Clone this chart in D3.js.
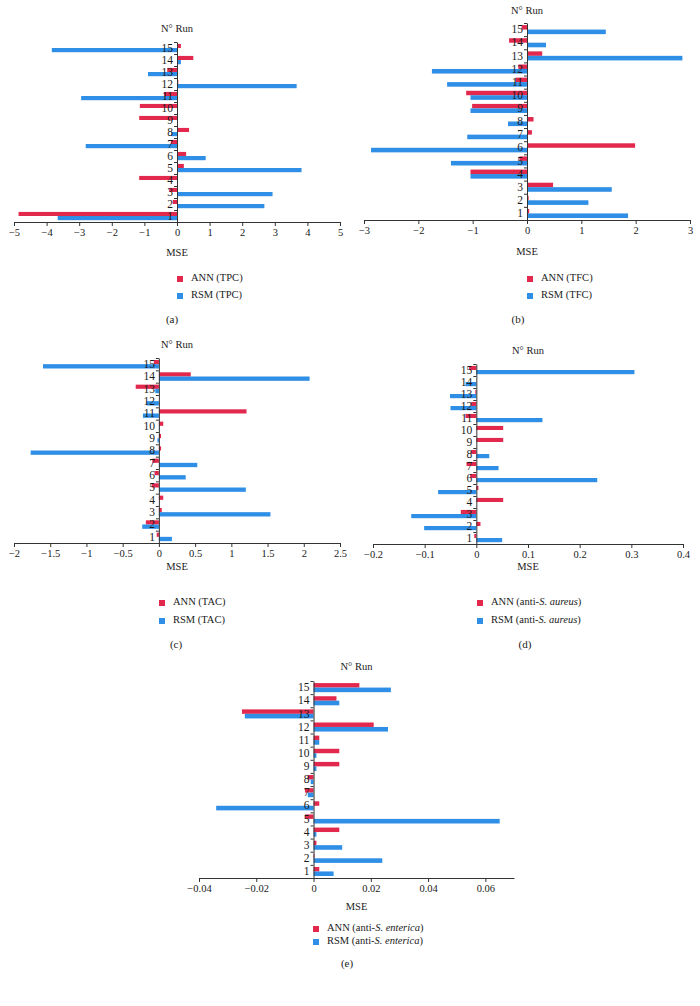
<!DOCTYPE html>
<html>
<head>
<meta charset="utf-8">
<script src="https://cdn.jsdelivr.net/npm/d3@7"></script>
<style>
  html, body { margin: 0; padding: 0; background: #fff; }
  svg { display: block; }
  text { font-family: "Liberation Serif", "DejaVu Serif", serif; fill: #1a1a1a; }
</style>
</head>
<body>
<svg id="chart" width="700" height="1006"></svg>
<script>
// ---- Data ----
const categories = ["1","2","3","4","5","6","7","8","9","10","11","12","13","14","15"];

const tpcANN = [-4.86, -0.13, -0.24, -1.16, 0.21, 0.28, -0.19, 0.37, -1.16, -1.14, -0.4, 0.04, -0.3, 0.5, 0.12];
const tpcRSM = [-3.66, 2.68, 2.93, 0, 3.82, 0.88, -2.8, -0.17, 0, 0, -2.94, 3.67, -0.89, 0.12, -3.84];

const tfcANN = [0.04, 0.03, 0.48, -1.04, -0.14, 1.99, 0.09, 0.12, -1.01, -1.12, -0.21, -0.16, 0.28, -0.33, -0.1];
const tfcRSM = [1.86, 1.13, 1.56, -1.04, -1.4, -2.87, -1.1, -0.35, -1.04, -1.04, -1.47, -1.75, 2.86, 0.35, 1.45];

const tacANN = [-0.03, -0.18, 0.04, 0.06, -0.1, -0.06, -0.09, 0.03, 0.03, 0.06, 1.21, 0, -0.32, 0.44, -0.07];
const tacRSM = [0.18, -0.23, 1.54, 0, 1.2, 0.37, 0.53, -1.77, -0.02, 0.005, -0.22, -0.17, -0.05, 2.08, -1.6];

const saANN = [-0.004, 0.008, -0.03, 0.052, 0.004, -0.012, -0.019, -0.01, 0.052, 0.052, -0.021, -0.01, -0.002, 0, -0.014];
const saRSM = [0.05, -0.101, -0.126, 0, -0.074, 0.234, 0.043, 0.025, 0, 0, 0.128, -0.05, -0.051, -0.021, 0.306];

const seANN = [0.002, 0.0003, 0.001, 0.009, -0.003, 0.002, -0.003, -0.002, 0.009, 0.009, 0.002, 0.021, -0.025, 0.008, 0.016];
const seRSM = [0.007, 0.024, 0.01, 0.001, 0.065, -0.034, -0.002, -0.001, 0.001, 0.001, 0.002, 0.026, -0.024, 0.009, 0.027];

const ticksA = [-5,-4,-3,-2,-1,0,1,2,3,4,5];
const ticksB = [-3,-2,-1,0,1,2,3];
const ticksC = [-2,-1.5,-1,-0.5,0,0.5,1,1.5,2,2.5];
const ticksD = [-0.2,-0.1,0,0.1,0.2,0.3,0.4];
const ticksE = [-0.04,-0.02,0,0.02,0.04,0.06];

const RED = "#e2294d";
const BLUE = "#2f8ee6";

const svg = d3.select("#chart");

function panel(cfg) {
  const g = svg.append("g");
  const x = d3.scaleLinear().domain(cfg.domain).range([cfg.x0, cfg.x1]);
  const y = d3.scaleBand().domain(categories.slice().reverse()).range([cfg.y0, cfg.y1]).padding(0);
  const bw = y.bandwidth();
  const zero = x(0);

  // bars
  categories.forEach((c, i) => {
    const a = cfg.ann[i], r = cfg.rsm[i];
    g.append("rect")
      .attr("x", Math.min(x(a), zero)).attr("width", Math.abs(x(a) - zero))
      .attr("y", y(c) + bw * 0.16).attr("height", bw * 0.34)
      .attr("fill", RED);
    g.append("rect")
      .attr("x", Math.min(x(r), zero)).attr("width", Math.abs(x(r) - zero))
      .attr("y", y(c) + bw * 0.5).attr("height", bw * 0.35)
      .attr("fill", BLUE);
  });

  // x axis
  const xa = g.append("g").attr("transform", `translate(0,${cfg.y1})`)
    .call(d3.axisBottom(x).tickValues(cfg.ticks).tickSize(4).tickSizeOuter(0).tickPadding(3).tickFormat(d3.format("")));
  xa.selectAll("path,line").attr("stroke", "#333");
  xa.selectAll("text").attr("font-size", 10.5).style("font-family", '"Liberation Serif", serif').attr("fill", "#1a1a1a");
  xa.selectAll("text").text(d => d < 0 ? "\u2212" + String(Math.abs(d)) : String(d));

  // y axis boundary ticks
  const yl = d3.scaleLinear().domain([0, categories.length]).range([cfg.y1, cfg.y0]);
  const ya = g.append("g").attr("transform", `translate(${zero},0)`)
    .call(d3.axisLeft(yl).tickValues(d3.range(0, categories.length + 1)).tickSize(3).tickSizeOuter(0).tickFormat(""));
  ya.selectAll("path,line").attr("stroke", "#333");
  // y labels
  const yb = g.append("g").attr("transform", `translate(${zero},0)`)
    .call(d3.axisLeft(y).tickSize(0).tickPadding(4));
  yb.select(".domain").remove();
  yb.selectAll("text").attr("font-size", 11.5).style("font-family", '"Liberation Serif", serif').attr("fill", "#1a1a1a");

  const cx = (cfg.x0 + cfg.x1) / 2;
  g.append("text").attr("x", cx).attr("y", cfg.titleY).attr("text-anchor", "middle")
    .attr("dominant-baseline", "middle").attr("font-size", 10.5).text("N\u00b0 Run");
  g.append("text").attr("x", cx).attr("y", cfg.mseY).attr("text-anchor", "middle")
    .attr("dominant-baseline", "middle").attr("font-size", 10.5).text("MSE");

  // legend
  [[RED, "ANN", cfg.legY[0]], [BLUE, "RSM", cfg.legY[1]]].forEach(([col, name, ly]) => {
    g.append("rect").attr("x", cfg.legX).attr("y", ly - 3).attr("width", 6).attr("height", 6).attr("fill", col);
    const t = g.append("text").attr("x", cfg.legX + 14).attr("y", ly)
      .attr("dominant-baseline", "middle").attr("font-size", 10.5);
    t.append("tspan").text(name + " (" + cfg.pre);
    if (cfg.ital) t.append("tspan").attr("font-style", "italic").text(cfg.ital);
    t.append("tspan").text(")");
  });
  g.append("text").attr("x", cfg.tagX).attr("y", cfg.tagY).attr("text-anchor", "middle")
    .attr("dominant-baseline", "middle").attr("font-size", 11).text(cfg.tag);
}

panel({ domain: [-5, 5], ticks: ticksA, x0: 14, x1: 340, y0: 42, y1: 222, ann: tpcANN, rsm: tpcRSM,
  titleY: 30, mseY: 254, legX: 177, legY: [279, 296], pre: "TPC", tagX: 172, tagY: 320, tag: "(a)" });
panel({ domain: [-3, 3], ticks: ticksB, x0: 364, x1: 690, y0: 23, y1: 220, ann: tfcANN, rsm: tfcRSM,
  titleY: 12, mseY: 253, legX: 527, legY: [279, 296], pre: "TFC", tagX: 518, tagY: 320, tag: "(b)" });
panel({ domain: [-2, 2.5], ticks: ticksC, x0: 14, x1: 340, y0: 358, y1: 543, ann: tacANN, rsm: tacRSM,
  titleY: 346, mseY: 568, legX: 159, legY: [603, 621], pre: "TAC", tagX: 176, tagY: 645, tag: "(c)" });
panel({ domain: [-0.2, 0.4], ticks: ticksD, x0: 373, x1: 683, y0: 364, y1: 544, ann: saANN, rsm: saRSM,
  titleY: 352, mseY: 568, legX: 477, legY: [603, 621], pre: "anti-", ital: "S. aureus", tagX: 525, tagY: 645, tag: "(d)" });
panel({ domain: [-0.04, 0.07], ticks: ticksE, x0: 199, x1: 514, y0: 681, y1: 878, ann: seANN, rsm: seRSM,
  titleY: 668, mseY: 908, legX: 313, legY: [929, 942], pre: "anti-", ital: "S. enterica", tagX: 347, tagY: 964, tag: "(e)" });
</script>
</body>
</html>
